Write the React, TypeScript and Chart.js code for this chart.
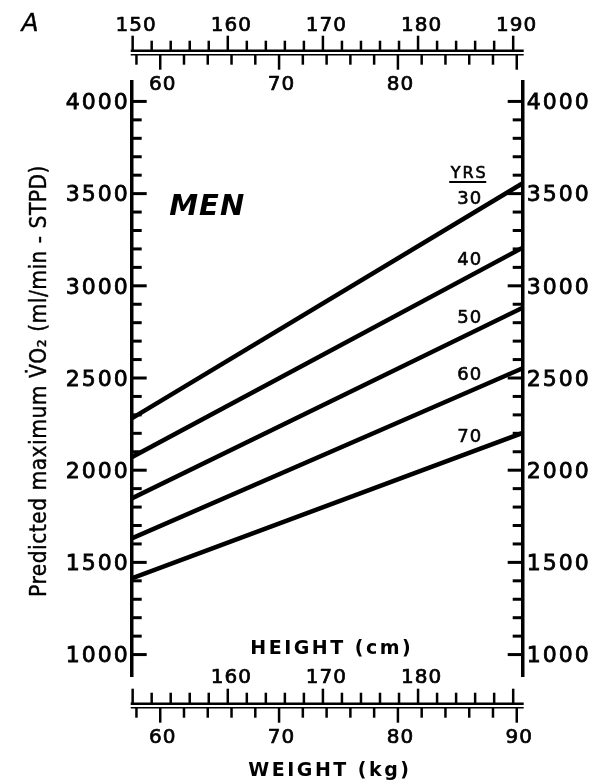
import React, { useEffect, useRef } from 'react';
import { Chart, registerables } from 'chart.js';

Chart.register(...registerables);

// ---- data ----
const ageLabels = ['30', '40', '50', '60', '70'];
const weightEnds = [57.6, 90.5]; // kg at the two ends of each line
const vo2Age30 = [2281, 3556];
const vo2Age40 = [2070, 3207];
const vo2Age50 = [1847, 2881];
const vo2Age60 = [1630, 2553];
const vo2Age70 = [1413, 2202];
const vo2Series = [vo2Age30, vo2Age40, vo2Age50, vo2Age60, vo2Age70];

const yMin = 880;
const yMax = 4107;
const yMajorTicks = [1000, 1500, 2000, 2500, 3000, 3500, 4000];
const yTickLabels = ['1000', '1500', '2000', '2500', '3000', '3500', '4000'];
const yMinorTicks = [
  1100, 1200, 1300, 1400, 1600, 1700, 1800, 1900, 2100, 2200, 2300, 2400, 2600, 2700, 2800, 2900,
  3100, 3200, 3300, 3400, 3600, 3700, 3800, 3900,
];

const weightMin = 57.6;
const weightMax = 90.5;
const heightMin = 149.9;
const heightMax = 191;
const heightMajorTicks = [150, 160, 170, 180, 190];
const heightMinorTicks = [152, 154, 156, 158, 162, 164, 166, 168, 172, 174, 176, 178, 182, 184, 186, 188];
const heightTopLabels = ['150', '160', '170', '180', '190'];
const heightBottomLabels = ['160', '170', '180'];
const weightMajorTicks = [60, 70, 80, 90];
const weightMinorTicks = [58, 62, 64, 66, 68, 72, 74, 76, 78, 82, 84, 86, 88];
const weightTopLabels = ['60', '70', '80'];
const weightBottomLabels = ['60', '70', '80', '90'];

const yTitle = 'Predicted maximum V\u0307O\u2082 (ml/min - STPD)';
const panelLetter = 'A';
const groupLabel = 'MEN';
const ageHeader = 'YRS';
const heightTitle = 'HEIGHT (cm)';
const weightTitle = 'WEIGHT (kg)';

const FONT = '"DejaVu Sans", sans-serif';

const nomogramPlugin = {
  id: 'nomogram',
  beforeDraw(chart: any) {
    chart.ctx.letterSpacing = '2px';
  },
  afterDraw(chart: any) {
    const ctx: CanvasRenderingContext2D = chart.ctx;
    const ca = chart.chartArea;
    const wS = chart.scales.x;
    const hS = chart.scales.h;
    const yS = chart.scales.y;
    ctx.save();
    ctx.strokeStyle = '#000';
    ctx.fillStyle = '#000';
    ctx.lineCap = 'butt';
    ctx.lineJoin = 'round';

    const hLine = (y: number, w: number) => {
      ctx.lineWidth = w;
      ctx.beginPath();
      ctx.moveTo(ca.left - 1, y);
      ctx.lineTo(ca.right + 1, y);
      ctx.stroke();
    };
    const vTick = (x: number, y1: number, y2: number) => {
      ctx.lineWidth = 2.5;
      ctx.beginPath();
      ctx.moveTo(x, y1);
      ctx.lineTo(x, y2);
      ctx.stroke();
    };
    const hTick = (y: number, x1: number, x2: number) => {
      ctx.lineWidth = 3;
      ctx.beginPath();
      ctx.moveTo(x1, y);
      ctx.lineTo(x2, y);
      ctx.stroke();
    };
    const text = (
      s: string,
      x: number,
      y: number,
      font: string,
      spacing: number,
      stroke = 0,
      align: CanvasTextAlign = 'center'
    ) => {
      ctx.font = font;
      (ctx as any).letterSpacing = spacing + 'px';
      ctx.textAlign = align;
      ctx.textBaseline = 'middle';
      const dx = align === 'center' ? spacing / 2 : 0;
      ctx.fillText(s, x + dx, y);
      if (stroke > 0) {
        ctx.lineWidth = stroke;
        ctx.strokeText(s, x + dx, y);
      }
    };

    // ---- y-axis tick marks (inside the plot, both sides) ----
    yMajorTicks.forEach((v) => {
      const y = yS.getPixelForValue(v);
      hTick(y, ca.left, ca.left + 15);
      hTick(y, ca.right, ca.right - 15);
    });
    yMinorTicks.forEach((v) => {
      const y = yS.getPixelForValue(v);
      hTick(y, ca.left, ca.left + 10);
      hTick(y, ca.right, ca.right - 10);
    });

    const numFont = '20px ' + FONT;
    const ns = 0.7;

    // ---- top nomogram ----
    const tH = ca.top - 31;
    const tW = ca.top - 27;
    hLine(tH, 2.5);
    hLine(tW, 1.5);
    heightMajorTicks.forEach((v) => vTick(hS.getPixelForValue(v), tH, tH - 15));
    heightMinorTicks.forEach((v) => vTick(hS.getPixelForValue(v), tH, tH - 10));
    weightMajorTicks.forEach((v) => vTick(wS.getPixelForValue(v), tW, tW + 15));
    weightMinorTicks.forEach((v) => vTick(wS.getPixelForValue(v), tW, tW + 10));
    heightMajorTicks.forEach((v, i) => text(heightTopLabels[i], hS.getPixelForValue(v) + 3, ca.top - 56, numFont, 1, ns));
    weightMajorTicks.slice(0, weightTopLabels.length).forEach((v, i) =>
      text(weightTopLabels[i], wS.getPixelForValue(v) + 2, ca.top + 3, numFont, 1, ns)
    );

    // ---- bottom nomogram ----
    const bH = ca.bottom + 27;
    const bW = ca.bottom + 31;
    hLine(bH, 2.5);
    hLine(bW, 1.5);
    heightMajorTicks.forEach((v) => vTick(hS.getPixelForValue(v), bH, bH - 15));
    heightMinorTicks.forEach((v) => vTick(hS.getPixelForValue(v), bH, bH - 11));
    weightMajorTicks.forEach((v) => vTick(wS.getPixelForValue(v), bW, bW + 15));
    weightMinorTicks.forEach((v) => vTick(wS.getPixelForValue(v), bW, bW + 10));
    heightMajorTicks.slice(1, 4).forEach((v, i) =>
      text(heightBottomLabels[i], hS.getPixelForValue(v) + 3, ca.bottom + 1, numFont, 1, ns)
    );
    weightMajorTicks.forEach((v, i) =>
      text(weightBottomLabels[i], wS.getPixelForValue(v) + 2, ca.bottom + 61, numFont, 1, ns)
    );
    text(heightTitle, hS.getPixelForValue(170.8), ca.bottom - 28, 'bold 19px ' + FONT, 2.5);
    text(weightTitle, hS.getPixelForValue(170.6), ca.bottom + 94, 'bold 19px ' + FONT, 2.5);

    // ---- y title ----
    ctx.save();
    ctx.translate(40.5, (ca.top + ca.bottom) / 2 + 2);
    ctx.rotate(-Math.PI / 2);
    text(yTitle, 0, 0, '22.5px "DejaVu Sans Condensed", ' + FONT, 0.5, 0.4);
    ctx.restore();

    // ---- panel letter ----
    text(panelLetter, 30, 24, 'italic 25px ' + FONT, 0, 0.4);

    // ---- MEN ----
    text(groupLabel, ca.left + 75, ca.top + 126, 'italic bold 29px ' + FONT, 1);

    // ---- age labels ----
    const lx = wS.getPixelForValue(86);
    let firstY = 0;
    ageLabels.forEach((lab, i) => {
      const meta = chart.getDatasetMeta(i);
      const p0 = meta.data[0];
      const p1 = meta.data[1];
      const t = (lx - p0.x) / (p1.x - p0.x);
      const y = p0.y + t * (p1.y - p0.y) - 16;
      if (i === 0) firstY = y;
      text(lab, lx, y, '18px ' + FONT, 1, 0.6);
    });
    text(ageHeader, lx - 1, firstY - 26, '16px ' + FONT, 2, 0.6);
    ctx.lineWidth = 2;
    ctx.beginPath();
    ctx.moveTo(lx - 20, firstY - 17.5);
    ctx.lineTo(lx + 17, firstY - 17.5);
    ctx.stroke();

    ctx.restore();
  },
};

const yAxis = (position: 'left' | 'right') => ({
  type: 'linear' as const,
  position,
  min: yMin,
  max: yMax,
  afterBuildTicks: (s: any) => {
    s.ticks = yMajorTicks.map((v) => ({ value: v }));
  },
  afterFit: (s: any) => {
    s.width = position === 'left' ? 131.7 : 609 - 522.7;
  },
  grid: { display: false, drawOnChartArea: false, drawTicks: false },
  border: { display: true, color: '#000', width: 3.5 },
  ticks: {
    display: true,
    autoSkip: false,
    color: '#000',
    textStrokeColor: '#000',
    textStrokeWidth: 0.8,
    font: { family: FONT, size: 22 },
    padding: position === 'left' ? 2 : 4,
    labelOffset: 2,
    callback: (_v: any, i: number) => yTickLabels[i],
  },
});

export default function App() {
  const ref = useRef<HTMLCanvasElement | null>(null);
  useEffect(() => {
    document.body.style.margin = '0';
    const canvas = ref.current;
    if (!canvas) return;
    const chart = new Chart(canvas, {
      type: 'line',
      data: {
        datasets: vo2Series.map((vals, i) => ({
          label: ageLabels[i],
          data: weightEnds.map((w, j) => ({ x: w, y: vals[j] })),
          borderColor: '#000',
          borderWidth: 4.5,
          pointRadius: 0,
          tension: 0,
          fill: false,
          xAxisID: 'x',
          yAxisID: 'y',
        })),
      },
      options: {
        animation: false,
        responsive: false,
        devicePixelRatio: 1,
        layout: { padding: { top: 81.7, bottom: 782 - 676.7, left: 0, right: 0 } },
        plugins: { legend: { display: false }, tooltip: { enabled: false }, title: { display: false } },
        events: [],
        scales: {
          x: { type: 'linear', position: 'bottom', min: weightMin, max: weightMax, display: false },
          h: { type: 'linear', axis: 'x', position: 'top', min: heightMin, max: heightMax, display: false },
          y: yAxis('left') as any,
          yR: yAxis('right') as any,
        },
      },
      plugins: [nomogramPlugin],
    });
    return () => chart.destroy();
  }, []);
  return (
    <div style={{ width: 609, height: 782, background: '#fff' }}>
      <canvas ref={ref} width={609} height={782} style={{ display: 'block' }} />
    </div>
  );
}
